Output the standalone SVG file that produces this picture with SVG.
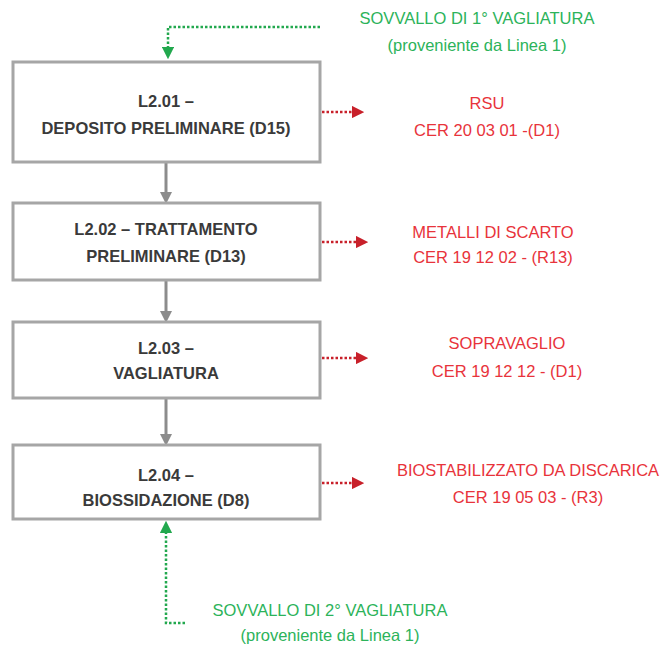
<svg xmlns="http://www.w3.org/2000/svg" width="665" height="648" viewBox="0 0 665 648">
<defs>
<style>
.box{fill:#fff;stroke:#a6a6a6;stroke-width:3}
.bt{font-family:"Liberation Sans",Arial,sans-serif;font-size:16.5px;font-weight:bold;fill:#3a3a3a;text-anchor:middle}
.rt{font-family:"Liberation Sans",Arial,sans-serif;font-size:16.5px;fill:#e8333b;text-anchor:middle}
.gt{font-family:"Liberation Sans",Arial,sans-serif;font-size:16.5px;fill:#2cb35a;text-anchor:middle}
.gray{stroke:#8c8c8c;stroke-width:3;fill:none}
.red{stroke:#c8202a;stroke-width:2.5;fill:none;stroke-dasharray:2.5 2}
.green{stroke:#22a84e;stroke-width:2.5;fill:none;stroke-dasharray:2.5 2}
</style>
<marker id="ag" markerWidth="4" markerHeight="4" refX="2" refY="2" orient="auto" markerUnits="strokeWidth"><path d="M0,0 L4,2 L0,4 Z" fill="#8c8c8c"/></marker>
<marker id="ar" markerWidth="5" markerHeight="5" refX="2.5" refY="2.5" orient="auto" markerUnits="strokeWidth"><path d="M0,0 L5,2.5 L0,5 Z" fill="#c8202a"/></marker>
<marker id="agr" markerWidth="5" markerHeight="5" refX="2.5" refY="2.5" orient="auto" markerUnits="strokeWidth"><path d="M0,0 L5,2.5 L0,5 Z" fill="#22a84e"/></marker>
</defs>
<g id="connectors">
<path class="gray" d="M166,163 V198" marker-end="url(#ag)"/>
<path class="gray" d="M166,281 V317" marker-end="url(#ag)"/>
<path class="gray" d="M166,399 V440" marker-end="url(#ag)"/>
<path class="green" d="M320,27 H168 V53" marker-end="url(#agr)"/>
<path class="green" d="M185,623 H166 V527" marker-end="url(#agr)"/>
<path class="red" d="M322,112 H358" marker-end="url(#ar)"/>
<path class="red" d="M322,242 H362" marker-end="url(#ar)"/>
<path class="red" d="M322,358 H362" marker-end="url(#ar)"/>
<path class="red" d="M322,483 H358" marker-end="url(#ar)"/>
</g>
<g id="n1"><rect class="box" x="13" y="62" width="307" height="100"/><text class="bt" x="166" y="107">L2.01 –</text><text class="bt" x="166" y="134">DEPOSITO PRELIMINARE (D15)</text></g>
<g id="n2"><rect class="box" x="13" y="203" width="307" height="77"/><text class="bt" x="166" y="235">L2.02 – TRATTAMENTO</text><text class="bt" x="166" y="262">PRELIMINARE (D13)</text></g>
<g id="n3"><rect class="box" x="13" y="322" width="307" height="76"/><text class="bt" x="166" y="354">L2.03 –</text><text class="bt" x="166" y="379">VAGLIATURA</text></g>
<g id="n4"><rect class="box" x="13" y="445" width="307" height="74"/><text class="bt" x="166" y="481">L2.04 –</text><text class="bt" x="166" y="506">BIOSSIDAZIONE (D8)</text></g>
<g id="o1"><text class="rt" x="487" y="109">RSU</text><text class="rt" x="487" y="136">CER 20 03 01 -(D1)</text></g>
<g id="o2"><text class="rt" x="493" y="238">METALLI DI SCARTO</text><text class="rt" x="493" y="263">CER 19 12 02 - (R13)</text></g>
<g id="o3"><text class="rt" x="507" y="349">SOPRAVAGLIO</text><text class="rt" x="507" y="377">CER 19 12 12 - (D1)</text></g>
<g id="o4"><text class="rt" x="528" y="476">BIOSTABILIZZATO DA DISCARICA</text><text class="rt" x="528" y="503">CER 19 05 03 - (R3)</text></g>
<g id="s1"><text class="gt" x="477" y="24">SOVVALLO DI 1° VAGLIATURA</text><text class="gt" x="477" y="51">(proveniente da Linea 1)</text></g>
<g id="s2"><text class="gt" x="330" y="616">SOVVALLO DI 2° VAGLIATURA</text><text class="gt" x="330" y="641">(proveniente da Linea 1)</text></g>
</svg>
